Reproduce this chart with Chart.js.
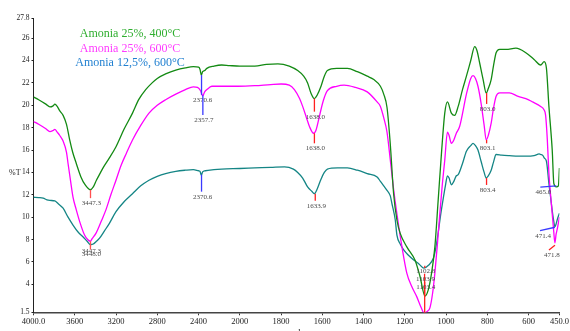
<!DOCTYPE html>
<html>
<head>
<meta charset="utf-8">
<script src="https://cdn.jsdelivr.net/npm/chart.js@4/dist/chart.umd.min.js"></script>
<style>
html,body{margin:0;padding:0;background:#fff;}
canvas{display:block;}
</style>
</head>
<body>
<canvas id="c" width="570" height="331"></canvas>
<script>
// ---------------- DATA ----------------
const seriesLabels = ['Amonia 25%, 400°C', 'Amonia 25%, 600°C', 'Amonia 12,5%, 600°C'];

const xTickValues = [4000, 3600, 3200, 2800, 2400, 2000, 1800, 1600, 1400, 1200, 1000, 800, 600, 450];
const xTickLabels = ['4000.0', '3600', '3200', '2800', '2400', '2000', '1800', '1600', '1400', '1200', '1000', '800', '600', '450.0'];
const yTickValues = [27.8, 26, 24, 22, 20, 18, 16, 14, 12, 10, 8, 6, 4, 1.5];

const greenWn = [4000,3950,3880,3841,3810,3793,3770,3745,3713,3680,3649,3620,3585,3540,3500,3450,3420,3390,3361,3320,3264,3200,3120,3040,2980,2912,2850,2800,2719,2620,2527,2450,2399,2385,2373,2360,2340,2319,2250,2175,2100,2000,1927,1870,1815,1760,1719,1690,1671,1655,1638,1625,1606,1590,1575,1530,1478,1430,1382,1350,1318,1302,1286,1270,1254,1238,1222,1190,1150,1126,1102,1086,1070,1054,1038,1022,1006,993,974,958,941,920,901,880,861,850,837,820,805,795,781,770,757,740,709,661,613,573,541,524,513,501,485,477,465,455,450];
const greenT = [20.75,20.5,20.1,19.85,19.95,20.1,19.9,19.5,19.1,18.3,16.9,15.8,14.8,13.6,12.9,12.45,12.7,13.3,13.8,14.5,15.3,16.3,17.9,19.3,20.5,21.4,22.0,22.4,22.8,23.15,23.35,23.45,23.4,23.2,22.7,23.0,23.1,23.3,23.5,23.6,23.55,23.5,23.5,23.65,23.7,23.5,23.1,22.6,22.0,21.1,20.6,20.9,21.7,22.6,23.1,23.3,23.3,23.0,22.6,22.3,21.7,21.0,19.8,16.5,12.1,9.75,8.55,7.35,6.15,4.7,2.95,3.5,5.0,7.35,11.5,15.7,19.3,20.3,19.3,19.1,19.9,21.4,22.6,24.0,25.25,24.9,23.8,22.3,21.1,21.5,22.3,23.5,24.7,25.0,25.0,25.1,24.7,24.1,23.6,23.9,23.3,19.9,16.0,13.0,12.7,12.8,14.4];

const magentaWn = [4000,3950,3880,3841,3810,3793,3770,3745,3713,3680,3665,3640,3617,3585,3545,3505,3475,3450,3430,3392,3340,3296,3250,3200,3152,3100,3040,2960,2880,2800,2719,2620,2527,2450,2410,2380,2360,2340,2319,2271,2150,2014,1927,1850,1799,1760,1735,1710,1695,1675,1662,1642,1630,1614,1595,1575,1530,1494,1440,1382,1334,1318,1302,1286,1270,1254,1238,1214,1190,1166,1142,1120,1107,1090,1078,1065,1054,1042,1030,1018,1006,993,985,974,962,950,934,901,880,869,857,845,830,815,805,795,781,770,757,740,693,650,613,580,541,525,517,509,501,493,485,478,472,466,461,455,450];
const magentaT = [18.55,18.3,17.9,17.65,17.75,17.85,17.6,17.3,16.8,15.8,14.8,13.2,11.8,10.66,9.4,8.4,8.0,7.85,8.1,8.6,9.7,10.7,12.0,13.3,14.6,15.7,16.9,18.2,19.3,20.0,20.5,21.0,21.4,21.65,21.6,21.3,20.85,21.2,21.4,21.7,21.7,21.7,21.75,21.85,21.9,21.8,21.4,20.6,19.9,18.8,18.1,17.5,17.8,19.0,20.4,21.3,21.7,21.8,21.6,21.2,20.3,19.9,18.9,17.6,15.1,12.5,10.3,7.4,5.0,3.8,2.9,1.9,1.45,1.6,1.9,3.2,5.0,7.5,10.3,12.9,15.1,17.6,17.3,16.6,16.9,17.5,18.1,21.0,22.4,22.65,22.4,21.7,20.2,18.2,16.9,17.3,18.4,19.7,20.8,21.1,21.1,20.8,20.6,20.3,19.9,19.6,19.1,17.0,13.9,12.0,10.3,8.8,7.7,8.5,8.9,9.5,10.0];

const tealWn = [4000,3950,3906,3870,3841,3793,3760,3713,3665,3617,3570,3521,3480,3448,3420,3390,3361,3310,3264,3200,3120,3040,2960,2880,2800,2719,2620,2527,2450,2399,2385,2373,2360,2335,2250,2175,2000,1927,1850,1783,1740,1719,1695,1671,1650,1638,1625,1606,1590,1575,1526,1478,1430,1382,1334,1318,1302,1286,1270,1262,1246,1238,1222,1206,1182,1158,1130,1107,1085,1062,1050,1038,1026,1014,1003,993,985,974,962,950,941,920,901,880,869,857,845,830,815,805,795,781,770,757,730,693,650,613,573,548,541,530,524,513,501,493,485,478,472,466,461,455,450];
const tealT = [11.78,11.75,11.7,11.55,11.5,11.45,11.2,10.8,10.0,9.3,8.7,8.25,7.85,7.55,7.6,7.85,8.1,8.8,9.45,10.5,11.4,12.1,12.8,13.3,13.65,13.9,14.1,14.2,14.25,14.15,14.1,13.75,14.05,14.15,14.25,14.3,14.35,14.4,14.45,14.5,14.3,14.0,13.5,12.7,12.3,12.1,12.5,13.4,14.0,14.3,14.4,14.4,14.2,13.9,13.6,13.2,12.8,12.4,11.9,11.2,9.75,8.4,7.6,7.1,6.6,6.2,5.8,5.45,5.7,6.3,7.2,8.6,10.2,11.6,12.8,13.7,13.5,12.9,13.2,13.7,13.8,14.8,15.9,16.4,16.6,16.4,16.0,15.0,14.0,13.5,13.7,14.2,14.9,15.6,15.55,15.5,15.45,15.45,15.5,15.65,15.6,15.5,15.3,15.0,13.0,11.8,10.6,9.7,9.15,9.4,9.75,10.1,10.35];

// peak annotations: wavenumber, %T at the curve, %T where the marker ends, label
const peakWn   = [3447.3, 3447.3, 3448.0, 2370.6, 2357.7, 2370.6, 1638.0, 1638.0, 1633.9, 1102.8, 1103.9, 1103.4, 803.0, 803.1, 803.4, 465.0, 471.4, 471.8];
const peakFrom = [12.45, 7.85, 7.5, 22.7, 20.9, 13.8, 20.6, 17.5, 12.1, 5.45, 2.95, 1.45, 21.1, 16.9, 13.5, 12.8, 9.1, 7.5];
const peakTo   = [11.7, 7.38, 7.11, 20.93, 19.13, 12.28, 19.43, 16.6, 11.47, 5.66, 4.95, 4.23, 20.12, 16.6, 12.88, 12.68, 8.79, 7.07];
const peakText = ['3447.3','3447.3','3448.0','2370.6','2357.7','2370.6','1638.0','1638.0','1633.9','1102.8','1103.9','1103.4','803.0','803.1','803.4','465.0','471.4','471.8'];

// ---------------- STYLE ----------------
const lineColors = ['#138a13', '#ff00ff', '#148585'];
const textColors = ['#2fae2f', '#ff3cff', '#1f7fd0'];
const peakColors = ['#ff5050','#ff5050','#ff5050','#3a3aff','#3a3aff','#3a3aff','#ff2020','#ff2020','#ff2020','#ff2020','#ff2020','#ff2020','#ff2020','#ff2020','#ff2020','#3a3aff','#3a3aff','#ff2020'];
const peakLean = [0,0,0,0,0,0,0,0,0,0,0,0,0,0,0,14,13,4];
const SERIF = '"Liberation Serif", "Times New Roman", serif';

// ---------------- CUSTOM FTIR AXIS (scale change at 2000 cm-1) ----------------
function wnToU(v) { return v >= 2000 ? (4000 - v) / 2 : 1000 + (2000 - v); }
function uToWn(u) { return u <= 1000 ? 4000 - 2 * u : 2000 - (u - 1000); }
class WavenumberScale extends Chart.LinearScale {
  static id = 'wavenumber';
  determineDataLimits() { this.min = this.options.min; this.max = this.options.max; }
  buildTicks() { return xTickValues.map(v => ({ value: v })); }
  getPixelForValue(v) { return this.getPixelForDecimal((wnToU(v) - wnToU(this.max)) / (wnToU(this.min) - wnToU(this.max))); }
  getValueForPixel(p) { return uToWn(this.getDecimalForPixel(p) * (wnToU(this.min) - wnToU(this.max))); }
}
Chart.register(WavenumberScale);

function pts(wn, t) { return wn.map((w, i) => ({ x: w, y: t[i] })); }

const overlay = {
  id: 'overlay',
  afterDatasetsDraw(chart) {
    const { ctx, scales: { x, y } } = chart;
    ctx.save();
    // peak markers
    ctx.font = '7px ' + SERIF;
    ctx.textAlign = 'center';
    ctx.textBaseline = 'middle';
    for (let i = 0; i < peakWn.length; i++) {
      const px = x.getPixelForValue(peakWn[i]);
      const y0 = y.getPixelForValue(peakFrom[i]);
      const y1 = y.getPixelForValue(peakTo[i]);
      const lx = px - peakLean[i];
      ctx.strokeStyle = peakColors[i];
      ctx.lineWidth = 1.3;
      ctx.beginPath();
      ctx.moveTo(px, y0);
      ctx.lineTo(peakLean[i] ? lx - 2 : px, y1);
      ctx.stroke();
      ctx.fillStyle = '#4a4a4a';
      ctx.fillText(peakText[i], lx + 1, y1 + 5);
    }
    // legend text
    ctx.font = '12px ' + SERIF;
    const ly = [34, 48.5, 63];
    seriesLabels.forEach((s, i) => {
      ctx.fillStyle = textColors[i];
      ctx.fillText(s, 130, ly[i]);
    });
    // %T label
    ctx.font = '8px ' + SERIF;
    ctx.fillStyle = '#222';
    ctx.textAlign = 'left';
    ctx.fillText('%T', 9, y.getPixelForValue(14) + 0.5);
    // x title (mostly outside the canvas)
    ctx.font = '11px ' + SERIF;
    ctx.textBaseline = 'alphabetic';
    ctx.fillText('cm', 282, 343);
    ctx.font = '8px ' + SERIF;
    ctx.fillText('\u22121', 293, 335);
    ctx.restore();
  }
};

new Chart(document.getElementById('c'), {
  type: 'line',
  data: {
    datasets: [
      { label: seriesLabels[0], data: pts(greenWn, greenT), borderColor: lineColors[0] },
      { label: seriesLabels[1], data: pts(magentaWn, magentaT), borderColor: lineColors[1] },
      { label: seriesLabels[2], data: pts(tealWn, tealT), borderColor: lineColors[2] }
    ]
  },
  options: {
    responsive: false,
    animation: false,
    devicePixelRatio: 1,
    layout: { padding: { top: 18, right: 6, left: 0, bottom: 0 } },
    elements: {
      point: { radius: 0 },
      line: { borderWidth: 1.3, cubicInterpolationMode: 'monotone', fill: false }
    },
    plugins: { legend: { display: false }, tooltip: { enabled: false } },
    scales: {
      x: {
        type: 'wavenumber', min: 450, max: 4000,
        ticks: {
          autoSkip: false, maxRotation: 0, padding: 1, color: '#222',
          font: { family: SERIF, size: 8.5 },
          callback: (v, i) => xTickLabels[i]
        },
        grid: { drawOnChartArea: false, tickLength: 3, color: '#333', lineWidth: 1 },
        border: { color: '#444', width: 1.5 },
        afterFit: s => { s.height = 18.7; }
      },
      y: {
        type: 'linear', min: 1.5, max: 27.8,
        afterBuildTicks: s => { s.ticks = yTickValues.map(v => ({ value: v })); },
        ticks: {
          padding: 2, color: '#222',
          font: { family: SERIF, size: 7.5 },
          callback: v => String(v)
        },
        grid: { drawOnChartArea: false, tickLength: 2, color: '#222', lineWidth: 1 },
        border: { color: '#222', width: 1 },
        afterFit: s => { s.width = 33.5; }
      }
    }
  },
  plugins: [overlay]
});
</script>
</body>
</html>
